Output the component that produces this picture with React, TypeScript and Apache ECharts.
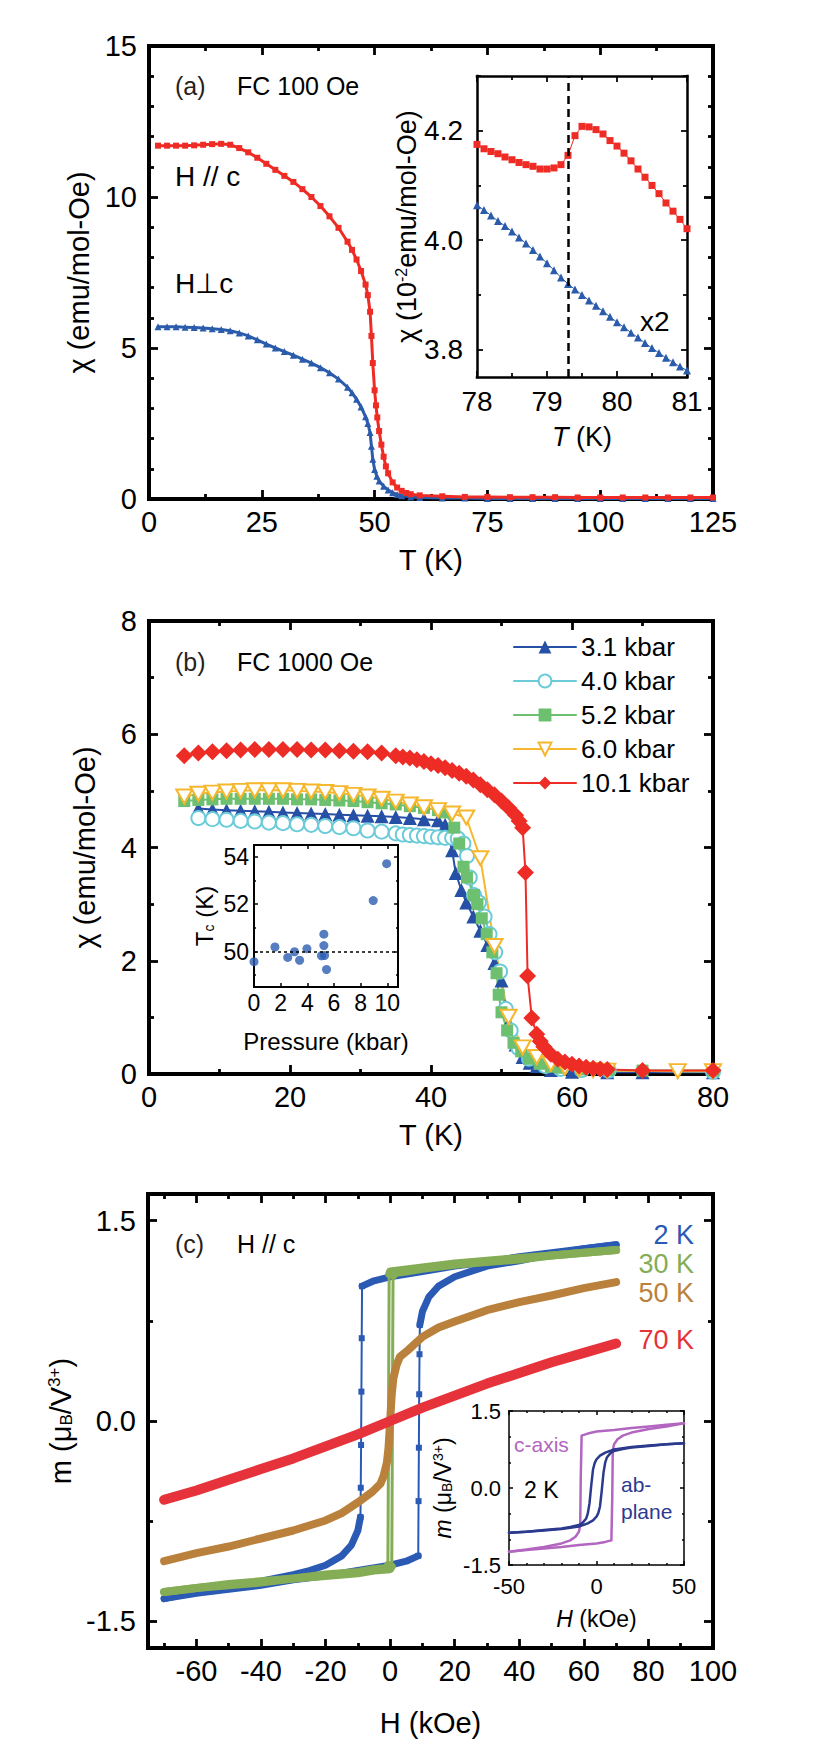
import React, { useEffect, useRef } from "react";
import * as echarts from "echarts";

const FONT = "'Liberation Sans', Arial, Helvetica, sans-serif";
const BLACK = "#000";

// ---------------- Panel (a) ----------------
const aT_Hc = [2,4,6,8,10,12,14,16,18,20,22,24,26,28,30,32,34,36,38,40,42,44,45,46,47,48,48.5,49,49.3,49.6,50,50.3,50.6,51,51.5,52,52.5,53,54,55,56,57,58,60,65,70,75,80,85,90,95,100,105,110,115,120,125];
const aChi_Hc = [11.70,11.70,11.70,11.70,11.71,11.73,11.75,11.76,11.73,11.62,11.48,11.30,11.10,10.90,10.70,10.50,10.26,10.00,9.70,9.36,8.98,8.52,8.25,7.93,7.55,7.10,6.75,6.20,5.40,4.50,3.60,3.10,2.70,2.25,1.80,1.40,1.08,0.85,0.55,0.38,0.27,0.20,0.16,0.12,0.09,0.07,0.07,0.06,0.06,0.06,0.05,0.05,0.05,0.05,0.05,0.05,0.05];
const aT_Hab = [2,4,6,8,10,12,14,16,18,20,22,24,26,28,30,32,34,36,38,40,42,44,45,46,47,48,48.5,49,49.3,49.6,50,50.5,51,52,53,54,55,56,58,60,65,70,75,80,85,90,95,100,105,110,115,120,125];
const aChi_Hab = [5.70,5.70,5.70,5.69,5.68,5.66,5.64,5.61,5.57,5.50,5.40,5.27,5.13,5.00,4.88,4.76,4.63,4.50,4.35,4.18,3.97,3.70,3.52,3.30,3.05,2.72,2.50,2.20,1.75,1.32,0.98,0.75,0.60,0.42,0.30,0.21,0.15,0.11,0.07,0.05,0.03,0.03,0.02,0.02,0.02,0.02,0.02,0.02,0.02,0.02,0.02,0.02,0.02];
const aInsetT = [78.0,78.1,78.2,78.3,78.4,78.5,78.6,78.7,78.8,78.9,79.0,79.1,79.2,79.3,79.4,79.5,79.6,79.7,79.8,79.9,80.0,80.1,80.2,80.3,80.4,80.5,80.6,80.7,80.8,80.9,81.0];
const aInsetChi_Hc = [4.175,4.167,4.162,4.158,4.152,4.147,4.142,4.138,4.135,4.130,4.130,4.132,4.138,4.155,4.191,4.208,4.207,4.202,4.194,4.182,4.172,4.159,4.145,4.130,4.115,4.100,4.085,4.068,4.053,4.038,4.021];
const aInsetChi_Hab = [4.064,4.055,4.045,4.035,4.026,4.016,4.005,3.994,3.982,3.970,3.958,3.945,3.932,3.920,3.910,3.900,3.890,3.880,3.870,3.860,3.850,3.841,3.831,3.822,3.812,3.803,3.794,3.785,3.777,3.769,3.762];
const aKinkT = 79.3;

const aXLabels = [0,25,50,75,100,125];
const aXMinor = [12.5,37.5,62.5,87.5,112.5];
const aYLabels = [0,5,10,15];
const aYMinor = [1,2,3,4,6,7,8,9,11,12,13,14];
const aInXLabels = [78,79,80,81];
const aInXMinor = [78.5,79.5,80.5];
const aInYLabels = [3.8,4.0,4.2];
const aInYMinor = [3.9,4.1,4.3];

// ---------------- Panel (b) ----------------
const b31T = [7,9,11,13,15,17,19,21,23,25,27,29,31,33,35,37,39,41,42,43,43.5,44.3,45,46,47,48,49,50,50.5,51,52,53,54,55,57,60,65,70,80];
const b31 = [4.69,4.67,4.66,4.65,4.64,4.63,4.62,4.61,4.60,4.59,4.58,4.57,4.56,4.55,4.54,4.52,4.50,4.48,4.40,3.95,3.55,3.25,3.03,2.78,2.53,2.28,1.96,1.65,1.20,0.90,0.52,0.30,0.20,0.14,0.07,0.04,0.03,0.03,0.03];
const b40T = [7,9,11,13,15,17,19,21,23,25,27,29,31,33,35,36,37,38,39,40,41,42,43,43.8,44.6,45.1,45.5,46.1,46.8,47.6,48.3,49.1,49.8,50.6,51.3,52.4,53.9,56.2,58.4,61.4,65.2,80];
const b40 = [4.52,4.50,4.49,4.47,4.46,4.44,4.43,4.41,4.40,4.38,4.36,4.34,4.30,4.28,4.25,4.23,4.22,4.21,4.20,4.19,4.18,4.17,4.17,4.16,4.07,3.85,3.47,3.16,3.03,2.78,2.47,2.15,1.81,1.15,0.77,0.46,0.27,0.14,0.09,0.07,0.06,0.04];
const b52T = [5,7,9,11,13,15,17,19,21,23,25,27,29,31,33,35,37,39,41,42,43.3,44,44.6,45.1,46.1,46.6,47.2,47.9,48.7,49.3,49.6,50.0,50.8,51.7,52.8,53.9,55.4,57,58.4,61.4,65.2,70,80];
const b52 = [4.82,4.84,4.85,4.86,4.86,4.86,4.86,4.86,4.85,4.85,4.84,4.83,4.82,4.80,4.78,4.76,4.73,4.70,4.66,4.62,4.35,4.07,3.66,3.47,3.16,3.00,2.75,2.47,2.15,1.78,1.40,1.09,0.77,0.55,0.40,0.27,0.18,0.13,0.11,0.08,0.07,0.06,0.06];
const b60T = [5,7,9,11,13,15,17,19,21,23,25,27,29,31,33,35,37,39,41,43,45,47,49,51,53,55,57,59,61,63,65,75,80];
const b60 = [4.90,4.95,4.97,4.99,5.00,5.01,5.01,5.01,5.00,4.99,4.98,4.96,4.93,4.90,4.86,4.81,4.76,4.71,4.66,4.60,4.53,3.81,2.26,1.01,0.47,0.30,0.18,0.11,0.08,0.07,0.06,0.05,0.05];
const b101T = [5,7,9,11,13,15,17,19,21,23,25,27,29,31,33,35,36,37,38,39,40,41,42,43,44,45,46,47,48,49,50,51,52,52.5,53,53.4,53.7,54.3,55,55.5,56,57,58,59,60,61,62,63,64,65,70,80];
const b101 = [5.62,5.67,5.69,5.71,5.72,5.73,5.73,5.73,5.73,5.72,5.72,5.71,5.70,5.69,5.67,5.62,5.60,5.58,5.55,5.52,5.48,5.45,5.41,5.36,5.31,5.26,5.19,5.11,5.02,4.93,4.82,4.70,4.57,4.47,4.35,3.56,1.73,0.99,0.70,0.58,0.48,0.35,0.26,0.21,0.17,0.14,0.12,0.10,0.09,0.08,0.06,0.06];
const bInsetP = [0,1.57,2.53,3.04,3.42,3.97,5.24,5.24,5.06,5.29,5.44,8.94,9.95];
const bInsetTc = [49.57,50.19,49.75,49.99,49.63,50.12,50.73,50.25,49.82,49.83,49.24,52.15,53.71];
const bTcRef = 50;

const bXLabels = [0,20,40,60,80];
const bXMinor = [10,30,50,70];
const bYLabels = [0,2,4,6,8];
const bYMinor = [1,3,5,7];
const bInXLabels = [0,2,4,6,8,10];
const bInYLabels = [50,52,54];
const bInYMinor = [49,51,53];

// ---------------- Panel (c) ----------------
const c2K_downH_hi = [70,60,50,40,30,20,10,0,-5,-8.7];
const c2K_downM_hi = [1.32,1.29,1.26,1.23,1.19,1.16,1.12,1.08,1.05,1.01];
const c2K_downH_jump = [-8.7,-8.8,-8.9,-9.0,-9.1,-9.2];
const c2K_downM_jump = [1.01,0.62,0.22,-0.18,-0.50,-0.72];
const c2K_downH_lo = [-9.2,-10,-12,-15,-20,-25,-30,-40,-50,-60,-70];
const c2K_downM_lo = [-0.72,-0.82,-0.93,-1.01,-1.08,-1.12,-1.15,-1.20,-1.24,-1.28,-1.33];
const c2K_upH_lo = [-70,-60,-50,-40,-30,-20,-10,0,5,8.7];
const c2K_upM_lo = [-1.33,-1.29,-1.26,-1.23,-1.19,-1.16,-1.12,-1.08,-1.05,-1.01];
const c2K_upH_jump = [8.7,8.8,8.9,9.0,9.1,9.2];
const c2K_upM_jump = [-1.01,-0.60,-0.20,0.20,0.50,0.72];
const c2K_upH_hi = [9.2,10,12,15,20,25,30,40,50,60,70];
const c2K_upM_hi = [0.72,0.82,0.93,1.01,1.08,1.12,1.16,1.20,1.25,1.29,1.32];

const c30K_downH_hi = [70,60,50,40,30,20,10,0,-0.3];
const c30K_downM_hi = [1.28,1.26,1.24,1.22,1.20,1.18,1.15,1.12,1.10];
const c30K_downH_jump = [-0.3,-0.4,-0.5,-0.6,-0.7];
const c30K_downM_jump = [1.10,0.62,0.0,-0.62,-1.08];
const c30K_downH_lo = [-0.7,-1,-5,-10,-20,-30,-40,-50,-60,-70];
const c30K_downM_lo = [-1.08,-1.10,-1.11,-1.13,-1.15,-1.18,-1.20,-1.22,-1.25,-1.28];
const c30K_upH_lo = [-70,-60,-50,-40,-30,-20,-10,-5,0,0.5];
const c30K_upM_lo = [-1.28,-1.25,-1.23,-1.21,-1.18,-1.16,-1.14,-1.12,-1.11,-1.09];
const c30K_upH_jump = [0.5,0.6,0.7,0.8,0.9];
const c30K_upM_jump = [-1.09,-0.60,0.0,0.60,1.09];
const c30K_upH_hi = [0.9,2,5,10,20,30,40,50,60,70];
const c30K_upM_hi = [1.09,1.11,1.12,1.14,1.17,1.19,1.21,1.24,1.26,1.28];

const c50K_H = [-70,-60,-50,-40,-30,-20,-15,-10,-5.5,-3,-2,-1,-0.5,0,0.5,1,2,3,5.5,10,15,20,30,40,50,60,70];
const c50K_M = [-1.05,-0.99,-0.94,-0.88,-0.82,-0.745,-0.69,-0.61,-0.53,-0.47,-0.41,-0.31,-0.20,0,0.20,0.32,0.42,0.48,0.53,0.63,0.70,0.745,0.83,0.89,0.94,0.995,1.04];
const c70K_H = [-70,-60,-50,-40,-30,-20,-10,0,10,20,30,40,50,60,70];
const c70K_M = [-0.59,-0.52,-0.44,-0.36,-0.28,-0.19,-0.10,0,0.10,0.19,0.28,0.36,0.44,0.51,0.58];

const cInC_downH = [50,40,30,20,10,0,-5,-8.5,-9,-9.3,-10,-12,-15,-20,-30,-40,-50];
const cInC_downM = [1.26,1.23,1.20,1.17,1.13,1.10,1.06,1.02,0.20,-0.72,-0.85,-0.95,-1.02,-1.08,-1.15,-1.20,-1.24];
const cInC_upH = [-50,-40,-30,-20,-10,0,5,8.5,9,9.3,10,12,15,20,30,40,50];
const cInC_upM = [-1.24,-1.21,-1.18,-1.15,-1.11,-1.08,-1.05,-1.02,-0.20,0.72,0.85,0.95,1.02,1.08,1.15,1.20,1.26];
const cInAb_downH = [50,40,30,20,10,5,2,0,-1,-2,-3,-4,-5,-6,-8,-10,-15,-20,-30,-40,-50];
const cInAb_downM = [0.87,0.85,0.83,0.80,0.75,0.69,0.63,0.56,0.49,0.36,0.05,-0.30,-0.50,-0.60,-0.68,-0.72,-0.76,-0.79,-0.82,-0.85,-0.87];
const cInAb_upH = [-50,-40,-30,-20,-10,-5,-2,0,1,2,3,4,5,6,8,10,15,20,30,40,50];
const cInAb_upM = [-0.87,-0.85,-0.83,-0.80,-0.75,-0.69,-0.63,-0.56,-0.49,-0.36,-0.05,0.30,0.50,0.60,0.68,0.72,0.76,0.79,0.82,0.85,0.87];

const cXLabels = [-60,-40,-20,0,20,40,60,80,100];
const cXMinor = [-70,-50,-30,-10,10,30,50,70,90];
const cYLabels = [-1.5,0,1.5];
const cYMinor = [-0.75,0.75];
const cInXLabels = [-50,0,50];
const cInXMinor = [-40,-30,-20,-10,10,20,30,40];
const cInYLabels = [-1.5,0,1.5];
const cInYMinor = [-1,-0.5,0.5,1];

// colours
const A_RED = "#ee2b25", A_BLUE = "#2b5cac";
const B_BLUE = "#2650a6", B_CYAN = "#6ccbd9", B_GREEN = "#6cc070", B_YEL = "#f6b72d", B_RED = "#ee2c26";
const C_BLUE = "#2a5ab4", C_GREEN = "#84ad55", C_BROWN = "#b9813b", C_RED = "#e6323a";
const C_PURPLE = "#b266bf", C_NAVY = "#2c3a8e";

const zip = (xs: number[], ys: number[]) => xs.map((x, i) => [x, ys[i]]);

type AxisSpec = {
  min: number; max: number; labels: number[]; major: number[]; minor: number[];
  fmt?: (v: number) => string; labelSize: number; labelMargin: number;
  name: string; nameSize: number; nameGap: number;
  line: number; tick: number; minorTick: number;
};

function richFor(size: number) {
  const small = Math.round(size * 0.6);
  return {
    sup: { fontSize: small, fontFamily: FONT, color: BLACK, verticalAlign: "top", lineHeight: small },
    sub: { fontSize: small, fontFamily: FONT, color: BLACK, verticalAlign: "bottom", lineHeight: small },
    it: { fontSize: size, fontFamily: FONT, color: BLACK, fontStyle: "italic" },
  };
}

function addAxes(list: any[], dim: "x" | "y", grid: number, s: AxisSpec): number {
  const sides = dim === "x" ? ["bottom", "top"] : ["left", "right"];
  const base = { type: "value", gridIndex: grid, min: s.min, max: s.max, splitLine: { show: false }, splitArea: { show: false } };
  const lineOn = { show: true, onZero: false, lineStyle: { color: BLACK, width: s.line, cap: "square" } };
  const tickStyle = { color: BLACK, width: Math.max(1.5, s.line * 0.7) };
  const idx = list.length;
  list.push({
    ...base, position: sides[0], axisLine: lineOn,
    axisTick: { show: true, inside: true, length: s.tick, customValues: s.major, lineStyle: tickStyle },
    axisLabel: {
      show: true, customValues: s.labels,
      formatter: (v: number) => (s.fmt ? s.fmt(v) : String(v)),
      fontSize: s.labelSize, fontFamily: FONT, color: BLACK, margin: s.labelMargin,
    },
    name: s.name, nameLocation: "middle", nameGap: s.nameGap,
    nameTextStyle: { fontSize: s.nameSize, fontFamily: FONT, color: BLACK, rich: richFor(s.nameSize) },
  });
  list.push({
    ...base, position: sides[1], axisLine: lineOn,
    axisTick: { show: true, inside: true, length: s.tick, customValues: s.major, lineStyle: tickStyle },
    axisLabel: { show: false },
  });
  if (s.minor.length) {
    for (const side of sides) {
      list.push({
        ...base, position: side, axisLine: { show: false, onZero: false },
        axisTick: { show: true, inside: true, length: s.minorTick, customValues: s.minor, lineStyle: tickStyle },
        axisLabel: { show: false },
      });
    }
  }
  return idx;
}

const f1 = (v: number) => v.toFixed(1);

function buildOption() {
  const grids = [
    { left: 149, top: 46, width: 564, height: 453 },   // a
    { left: 477, top: 76, width: 210, height: 301 },   // a inset
    { left: 149, top: 621, width: 564, height: 453 },  // b
    { left: 254, top: 845, width: 144, height: 142 },  // b inset
    { left: 148, top: 1194, width: 565, height: 454 }, // c
    { left: 509, top: 1411, width: 175, height: 154 }, // c inset
  ].map((g, i) => ({
    ...g, containLabel: false, outerBoundsMode: "none",
    show: i % 2 === 1, backgroundColor: "#fff", borderWidth: 0,
  }));

  const xs: any[] = [];
  const ys: any[] = [];
  const main = { line: 4, tick: 9, minorTick: 5, labelSize: 29 };

  const ax = addAxes(xs, "x", 0, { ...main, min: 0, max: 125, labels: aXLabels, major: aXLabels, minor: aXMinor, labelMargin: 8, name: "T (K)", nameSize: 29, nameGap: 46 });
  const ay = addAxes(ys, "y", 0, { ...main, min: 0, max: 15, labels: aYLabels, major: aYLabels, minor: aYMinor, labelMargin: 12, name: "χ (emu/mol-Oe)", nameSize: 29, nameGap: 50 });
  const aix = addAxes(xs, "x", 1, { line: 2.5, tick: 6, minorTick: 4, labelSize: 28, min: 78, max: 81, labels: aInXLabels, major: aInXLabels, minor: aInXMinor, labelMargin: 10, name: "{it|T} (K)", nameSize: 27, nameGap: 46 });
  const aiy = addAxes(ys, "y", 1, { line: 2.5, tick: 6, minorTick: 4, labelSize: 28, min: 3.75, max: 4.3, labels: aInYLabels, major: aInYLabels, minor: aInYMinor, fmt: f1, labelMargin: 14, name: "χ (10{sup|-2}emu/mol-Oe)", nameSize: 27, nameGap: 56 });

  const bx = addAxes(xs, "x", 2, { ...main, min: 0, max: 80, labels: bXLabels, major: bXLabels, minor: bXMinor, labelMargin: 8, name: "T (K)", nameSize: 29, nameGap: 46 });
  const by = addAxes(ys, "y", 2, { ...main, min: 0, max: 8, labels: bYLabels, major: bYLabels, minor: bYMinor, labelMargin: 12, name: "χ (emu/mol-Oe)", nameSize: 29, nameGap: 50 });
  const bix = addAxes(xs, "x", 3, { line: 2, tick: 4, minorTick: 2, labelSize: 23, min: 0, max: 10.8, labels: bInXLabels, major: bInXLabels, minor: [], labelMargin: 4, name: "Pressure (kbar)", nameSize: 24, nameGap: 42 });
  const biy = addAxes(ys, "y", 3, { line: 2, tick: 4, minorTick: 2, labelSize: 23, min: 48.5, max: 54.5, labels: bInYLabels, major: bInYLabels, minor: bInYMinor, labelMargin: 5, name: "T{sub|c} (K)", nameSize: 24, nameGap: 38 });

  const cx = addAxes(xs, "x", 4, { ...main, min: -75, max: 100, labels: cXLabels, major: cXLabels, minor: cXMinor, labelMargin: 8, name: "H (kOe)", nameSize: 29, nameGap: 60 });
  const cy = addAxes(ys, "y", 4, { ...main, min: -1.7, max: 1.7, labels: cYLabels, major: cYLabels, minor: cYMinor, fmt: f1, labelMargin: 12, name: "m (μ{sub|B}/V{sup|3+})", nameSize: 29, nameGap: 60 });
  const cix = addAxes(xs, "x", 5, { line: 1.5, tick: 4, minorTick: 2, labelSize: 22, min: -50, max: 50, labels: cInXLabels, major: cInXLabels, minor: cInXMinor, labelMargin: 10, name: "{it|H} (kOe)", nameSize: 23, nameGap: 42 });
  const ciy = addAxes(ys, "y", 5, { line: 1.5, tick: 4, minorTick: 2, labelSize: 22, min: -1.5, max: 1.5, labels: cInYLabels, major: cInYLabels, minor: cInYMinor, fmt: f1, labelMargin: 8, name: "{it|m} (μ{sub|B}/V{sup|3+})", nameSize: 23, nameGap: 55 });

  const line = (name: string, xi: number, yi: number, data: number[][], color: string, width: number, extra: any = {}) => ({
    type: "line", name, xAxisIndex: xi, yAxisIndex: yi, data,
    showSymbol: false, symbol: "none",
    lineStyle: { color, width, cap: "round", join: "round" },
    itemStyle: { color }, emphasis: { disabled: true },
    ...extra,
  });

  const invTri = "path://M0,0L20,0L10,17.3Z";

  const series: any[] = [
    // (a)
    line("a-Hab", ax, ay, zip(aT_Hab, aChi_Hab), A_BLUE, 3, { showSymbol: true, showAllSymbol: true, symbol: "triangle", symbolSize: 7 }),
    line("a-Hc", ax, ay, zip(aT_Hc, aChi_Hc), A_RED, 3, { showSymbol: true, showAllSymbol: true, symbol: "rect", symbolSize: 6 }),
    line("ai-Hc", aix, aiy, zip(aInsetT, aInsetChi_Hc), A_RED, 1, {
      showSymbol: true, showAllSymbol: true, symbol: "rect", symbolSize: 7,
      markLine: { silent: true, symbol: ["none", "none"], label: { show: false }, lineStyle: { type: [8, 5], color: BLACK, width: 2.5 }, data: [{ xAxis: aKinkT }] },
    }),
    line("ai-Hab", aix, aiy, zip(aInsetT, aInsetChi_Hab), A_BLUE, 1, { showSymbol: true, showAllSymbol: true, symbol: "triangle", symbolSize: 8 }),

    // (b)
    line("3.1 kbar", bx, by, zip(b31T, b31), B_BLUE, 2, { showSymbol: true, showAllSymbol: true, symbol: "triangle", symbolSize: 14 }),
    line("4.0 kbar", bx, by, zip(b40T, b40), B_CYAN, 2, { showSymbol: true, showAllSymbol: true, symbol: "emptyCircle", symbolSize: 14, itemStyle: { color: B_CYAN, borderWidth: 2 } }),
    line("5.2 kbar", bx, by, zip(b52T, b52), B_GREEN, 2, { showSymbol: true, showAllSymbol: true, symbol: "rect", symbolSize: 12 }),
    line("6.0 kbar", bx, by, zip(b60T, b60), B_YEL, 2, { showSymbol: true, showAllSymbol: true, symbol: invTri, symbolSize: [16, 14], itemStyle: { color: "#fff", borderColor: B_YEL, borderWidth: 2 } }),
    line("10.1 kbar", bx, by, zip(b101T, b101), B_RED, 2, { showSymbol: true, showAllSymbol: true, symbol: "diamond", symbolSize: 17 }),
    {
      type: "scatter", name: "Tc", xAxisIndex: bix, yAxisIndex: biy, data: zip(bInsetP, bInsetTc),
      symbol: "circle", symbolSize: 9, itemStyle: { color: "#2a5cb0" },
      markLine: { silent: true, symbol: ["none", "none"], label: { show: false }, lineStyle: { type: [3, 3], color: BLACK, width: 1.5 }, data: [{ yAxis: bTcRef }] },
    },

    // (c)
    line("c2K-1", cx, cy, zip(c2K_downH_hi, c2K_downM_hi), C_BLUE, 7),
    line("c2K-2", cx, cy, zip(c2K_downH_jump, c2K_downM_jump), C_BLUE, 2, { showSymbol: true, showAllSymbol: true, symbol: "rect", symbolSize: 6 }),
    line("c2K-3", cx, cy, zip(c2K_downH_lo, c2K_downM_lo), C_BLUE, 7),
    line("c2K-4", cx, cy, zip(c2K_upH_lo, c2K_upM_lo), C_BLUE, 7),
    line("c2K-5", cx, cy, zip(c2K_upH_jump, c2K_upM_jump), C_BLUE, 2, { showSymbol: true, showAllSymbol: true, symbol: "rect", symbolSize: 6 }),
    line("c2K-6", cx, cy, zip(c2K_upH_hi, c2K_upM_hi), C_BLUE, 7),
    line("c30K-1", cx, cy, zip(c30K_downH_hi, c30K_downM_hi), C_GREEN, 8),
    line("c30K-2", cx, cy, zip(c30K_downH_jump, c30K_downM_jump), C_GREEN, 3),
    line("c30K-3", cx, cy, zip(c30K_downH_lo, c30K_downM_lo), C_GREEN, 8),
    line("c30K-4", cx, cy, zip(c30K_upH_lo, c30K_upM_lo), C_GREEN, 8),
    line("c30K-5", cx, cy, zip(c30K_upH_jump, c30K_upM_jump), C_GREEN, 3),
    line("c30K-6", cx, cy, zip(c30K_upH_hi, c30K_upM_hi), C_GREEN, 8),
    line("c50K", cx, cy, zip(c50K_H, c50K_M), C_BROWN, 8),
    line("c70K", cx, cy, zip(c70K_H, c70K_M), C_RED, 10),
    line("ci-c-down", cix, ciy, zip(cInC_downH, cInC_downM), C_PURPLE, 2.5),
    line("ci-c-up", cix, ciy, zip(cInC_upH, cInC_upM), C_PURPLE, 2.5),
    line("ci-ab-down", cix, ciy, zip(cInAb_downH, cInAb_downM), C_NAVY, 2.5),
    line("ci-ab-up", cix, ciy, zip(cInAb_upH, cInAb_upM), C_NAVY, 2.5),
  ];

  const texts: any[] = [
    { x: 175, y: 86, t: "(a)", s: 25, c: "#2a1f1a" },
    { x: 237, y: 86, t: "FC 100 Oe", s: 25, c: BLACK },
    { x: 175, y: 176, t: "H // c", s: 28, c: BLACK },
    { x: 175, y: 283, t: "H⊥c", s: 28, c: BLACK },
    { x: 640, y: 321, t: "x2", s: 28, c: BLACK },
    { x: 175, y: 662, t: "(b)", s: 25, c: "#2a1f1a" },
    { x: 237, y: 662, t: "FC 1000 Oe", s: 25, c: BLACK },
    { x: 175, y: 1244, t: "(c)", s: 25, c: "#2a1f1a" },
    { x: 237, y: 1244, t: "H // c", s: 25, c: BLACK },
    { x: 694, y: 1235, t: "2 K", s: 27, c: C_BLUE, a: "right" },
    { x: 694, y: 1264, t: "30 K", s: 27, c: C_GREEN, a: "right" },
    { x: 694, y: 1293, t: "50 K", s: 27, c: C_BROWN, a: "right" },
    { x: 694, y: 1340, t: "70 K", s: 27, c: C_RED, a: "right" },
    { x: 514, y: 1444, t: "c-axis", s: 21, c: C_PURPLE },
    { x: 524, y: 1490, t: "2 K", s: 23, c: BLACK },
    { x: 621, y: 1484, t: "ab-", s: 21, c: C_NAVY },
    { x: 621, y: 1511, t: "plane", s: 21, c: C_NAVY },
  ];

  return {
    animation: false,
    backgroundColor: "#fff",
    grid: grids,
    xAxis: xs,
    yAxis: ys,
    legend: {
      show: true, selectedMode: false,
      data: ["3.1 kbar", "4.0 kbar", "5.2 kbar", "6.0 kbar", "10.1 kbar"],
      orient: "vertical", left: 513, top: 634, padding: 0,
      itemWidth: 62, itemHeight: 16, itemGap: 8,
      textStyle: { fontSize: 26, fontFamily: FONT, color: BLACK },
    },
    graphic: texts.map((t) => ({
      type: "text", x: t.x, y: t.y, z: 100, silent: true,
      style: { text: t.t, fontSize: t.s, fontFamily: FONT, fill: t.c, align: t.a || "left", verticalAlign: "middle" },
    })),
    series,
  };
}

export default function App() {
  const ref = useRef<HTMLDivElement>(null);
  useEffect(() => {
    if (!ref.current) return;
    const chart = echarts.init(ref.current, null, { renderer: "svg" });
    chart.setOption(buildOption() as any);
    return () => chart.dispose();
  }, []);
  return (
    <div
      ref={ref}
      style={{ position: "absolute", left: 0, top: 0, width: 830, height: 1753, background: "#fff" }}
    />
  );
}
